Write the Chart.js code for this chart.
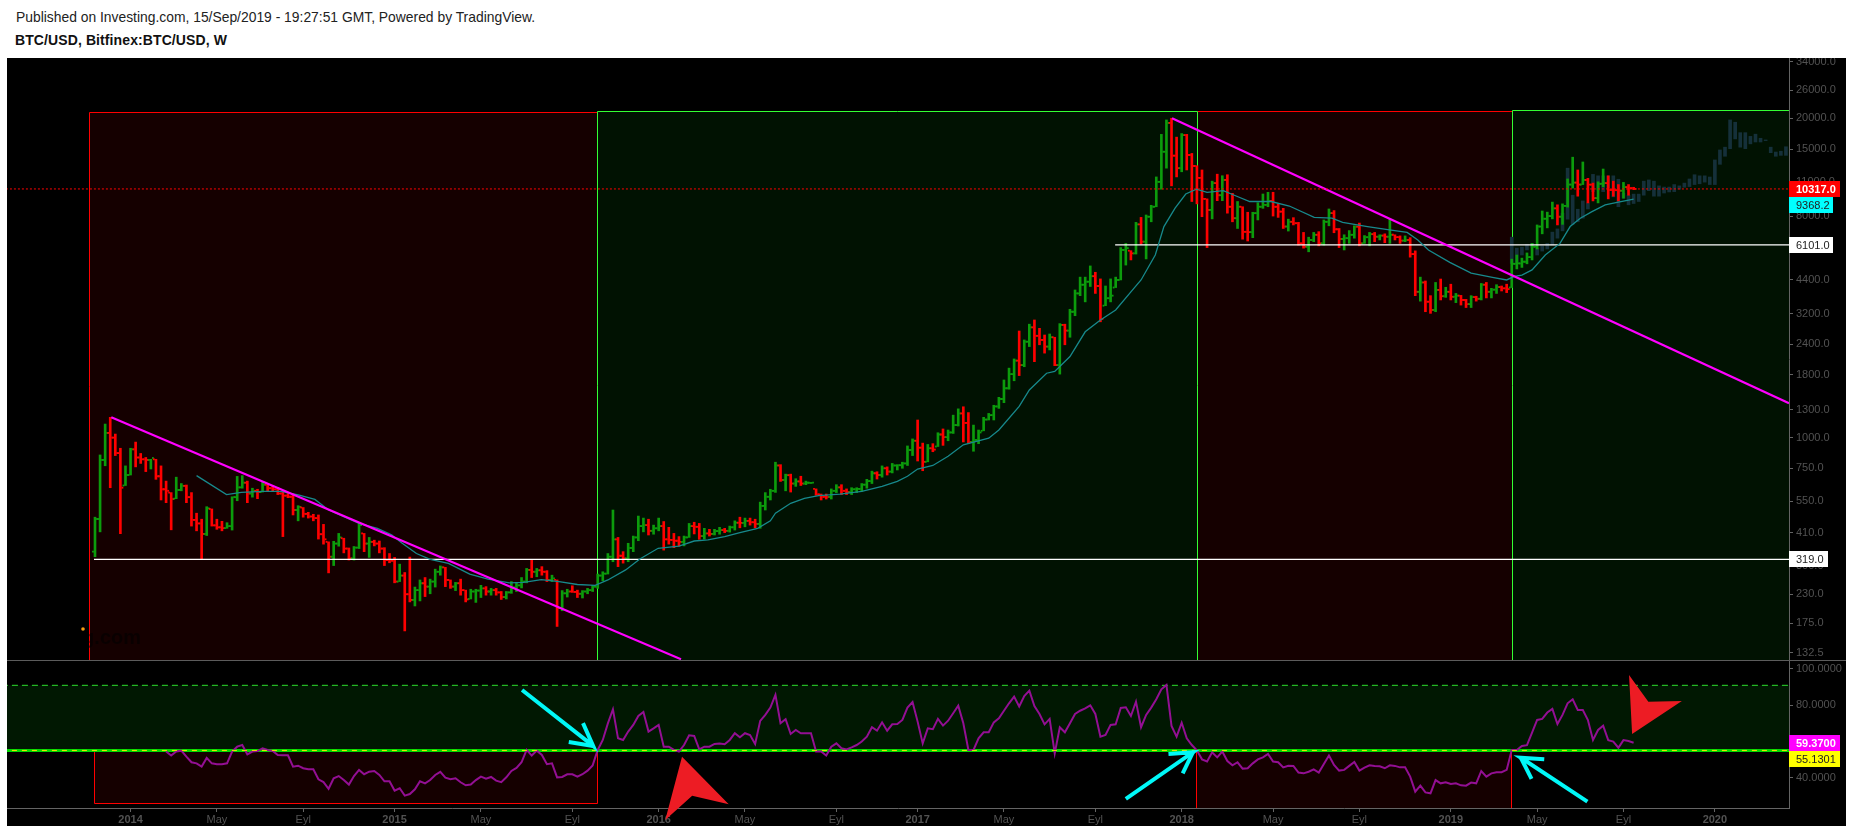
<!DOCTYPE html>
<html>
<head>
<meta charset="utf-8">
<title>BTC/USD</title>
<style>
    html, body { margin: 0; background: #fff; overflow: hidden; }
    .head { position: absolute; left: 16px; font: 13.87px "Liberation Sans", Arial, sans-serif; color: #222; white-space: nowrap; }
    #line1 { top: 9px; }
    #line2 { top: 32px; left: 15px; font-size: 14px; font-weight: bold; color: #111; letter-spacing: 0.1px; }
    #panel { position: absolute; left: 7px; top: 58px; width: 1839px; height: 768px; background: #000; }
    #price-chart { position: absolute; left: 0; top: 0; }
    #divider { position: absolute; left: 0; top: 602px; width: 1839px; height: 1px; background: #5c5c5c; }
    #rsi-chart { position: absolute; left: 0; top: 603px; }
</style>
</head>
<body>
<div class="head" id="line1">Published on Investing.com, 15/Sep/2019 - 19:27:51 GMT, Powered by TradingView.</div>
<div class="head" id="line2">BTC/USD, Bitfinex:BTC/USD, W</div>
<div id="panel">
    <canvas id="price-chart" width="1839" height="602"></canvas>
    <div id="divider"></div>
    <canvas id="rsi-chart" width="1839" height="165"></canvas>
</div>
<script src="https://cdn.jsdelivr.net/npm/chart.js@4/dist/chart.umd.min.js"></script>
<script>
// weekly bars, index 0 = first bar on the chart
const firstOpen = 343;
const highs = [
    474,850,1136,1210,1034,905,767,905,959,862,
    830,816,816,767,665,597,690,650,641,597,
    492,465,523,512,465,456,450,574,695,700,
    665,622,616,663,643,636,627,607,592,589,
    528,519,496,487,484,443,376,378,407,389,
    355,360,447,407,392,382,379,356,337,325,
    305,282,326,246,263,269,265,291,300,296,
    263,257,265,239,241,241,250,247,243,243,
    236,236,259,256,269,293,317,293,298,287,
    275,263,238,241,249,239,238,243,250,278,
    284,337,507,392,343,371,397,479,470,465,
    440,470,455,431,407,395,397,447,452,447,
    427,423,423,431,427,436,458,474,470,470,
    465,546,597,616,794,776,710,710,680,696,
    665,657,618,589,589,618,643,643,618,625,
    625,650,676,730,726,767,760,785,776,794,
    925,988,1180,950,938,945,1047,1085,1074,1235,
    1310,1336,1265,1125,1074,1210,1255,1355,1460,1718,
    1920,2093,2720,2501,2900,3017,2790,2620,2645,2565,
    2915,2900,3335,3998,4510,4510,5010,4720,4435,4150,
    4435,4510,5950,6190,5780,7540,7900,8080,8850,11550,
    17220,19717,20030,16780,17350,17220,14400,12830,12330,9400,
    11100,11850,11680,11790,9900,9170,8730,8290,8290,9070,
    9840,10000,10000,8970,8600,7770,7880,7540,6860,6560,
    6860,6910,7713,8550,8420,7120,6710,6980,7300,7490,
    6660,6860,6860,6710,6770,7770,6710,6640,6640,6530,
    5770,4510,4350,3790,4290,4430,4100,4220,3870,3800,
    3660,3790,3770,4250,4290,4060,4200,4150,4220,5340,
    5550,5390,5660,6190,7360,8390,8300,9120,8890,8970,
    11330,13900,12330,13290,11400,10900,11030,12440,11670,11100,
    10750,10970,10750,10480
];
const lows = [
    327,413,768,625,845,406,638,704,760,785,
    727,745,676,557,543,421,564,607,543,436,
    417,319,399,436,423,417,427,420,553,622,
    543,572,564,600,607,607,586,395,569,484,
    458,474,470,458,386,368,281,301,361,339,
    317,317,353,343,325,362,339,301,309,256,
    259,163,214,206,216,225,231,246,275,247,
    243,238,228,214,220,213,223,228,228,228,
    219,220,232,236,244,256,269,271,275,259,
    259,170,197,224,234,223,222,231,236,243,
    261,278,312,298,308,312,343,380,413,401,
    404,417,348,368,356,361,362,392,405,385,
    386,397,401,404,410,412,420,429,433,440,
    429,427,507,557,598,663,607,600,633,638,
    643,650,582,557,562,562,597,586,586,586,
    597,604,622,650,678,690,704,718,738,750,
    770,845,803,733,797,876,920,930,971,1040,
    1115,960,945,880,945,1066,1180,1180,1316,1388,
    1575,1705,1790,1945,2350,2040,2390,2210,2277,1965,
    1815,2390,2565,3140,3790,3575,4130,3870,2965,3450,
    3575,4090,4392,5050,5299,5600,6140,5350,7580,8730,
    10290,12540,10620,11550,12120,12330,9170,8970,7950,5950,
    7790,9240,9240,8220,7580,7120,6440,6330,6530,7713,
    8600,8730,8000,7900,7120,6950,7360,6090,5920,5720,
    6290,6050,6090,7300,6840,5950,5820,6190,6500,6050,
    6190,6050,6290,6393,6230,6190,6393,6190,6290,5440,
    3790,3600,3260,3210,3260,3640,3730,3640,3550,3470,
    3390,3390,3600,3640,3710,3710,3870,3960,3900,4090,
    4870,4940,5110,5299,5875,6770,7160,7790,7360,7400,
    8700,10400,9640,10750,9050,9220,9050,10530,9400,9640,
    9220,9460,9730,10250
];
const closes = [
    466,811,1045,1000,865,625,704,896,830,816,
    811,826,696,616,607,562,612,636,572,462,
    447,405,515,439,431,428,436,572,627,655,
    592,607,600,643,622,616,592,580,574,507,
    522,489,477,470,404,385,327,370,392,353,
    322,356,440,370,376,370,353,317,315,259,
    274,230,218,239,255,247,259,284,296,263,
    247,255,239,219,236,238,243,236,239,234,
    224,234,245,250,259,289,284,288,284,263,
    267,202,232,236,235,231,236,239,247,274,
    279,327,385,330,322,355,392,436,440,417,
    427,436,385,383,380,376,392,436,433,397,
    407,405,416,420,417,431,450,449,458,452,
    445,527,574,607,770,672,703,650,663,650,
    655,656,587,574,573,607,627,607,600,616,
    618,643,665,716,704,750,727,770,772,785,
    890,971,910,797,905,894,1030,1005,1050,1125,
    1255,1148,960,978,1050,1185,1235,1340,1437,1590,
    1816,2060,1975,2460,2815,2600,2501,2350,2565,1975,
    2880,2730,3260,3870,4200,4320,4550,4150,3045,3700,
    3790,4392,5820,5920,5640,7400,6290,7950,8730,11030,
    14630,19170,14100,12540,17100,14190,12800,11450,9400,8472,
    10900,9730,11227,8730,7840,8730,6900,6880,8220,8730,
    8890,9220,8730,8340,7250,7580,7480,6190,6000,6393,
    6710,6190,7580,8220,7070,6450,6500,6710,7240,6190,
    6560,6750,6590,6660,6590,6710,6560,6350,6393,5600,
    3930,4290,3580,3314,4000,3770,3930,3750,3790,3640,
    3500,3740,3680,4200,3930,4010,4110,4060,4030,5110,
    5130,5210,5440,6000,7250,7800,8000,8600,7950,8800,
    10750,10950,10750,11227,10750,9460,10830,10900,10220,10200,
    10150,10500,10400,10317
];

// faded projection bars on the right
const ghostFirstBar = 279;
const ghostHighs = [
    6560,5920,5975,6140,6190,5920,6040,6190,6880,7090,
    8220,12540,9730,8530,9220,9050,11830,11670,11670,11670,
    11670,11300,9900,9730,9830,9830,11100,11227,11100,10620,
    10500,10500,10750,10620,10900,11330,11790,11670,11670,11540,
    13546,14878,15270,19717,19300,17500,17500,16900,17250,16600,
    16342,15270,14590,14700,15330
];
const ghostLows = [
    5130,5130,5550,5820,5975,5550,5760,5875,6090,6500,
    6960,7770,7400,7580,7840,8550,10060,10220,10060,10400,
    9580,8730,9460,8890,9000,9170,9730,10150,9640,9640,
    9930,10030,10060,10290,10480,10550,10750,10830,11000,10750,
    10750,13000,14020,15060,16500,15270,15060,15750,16030,16030,
    16240,14500,14020,14140,14140
];

// moving average, read at its visible bends
const maBars = [
    20,25.9,28.8,33,36.6,40,43.3,46,49,52,55.6,58.4,60.5,63.3,66,69.6,73.8,77.4,81.6,84.4,
    87.9,91.4,95,98.5,101,104.5,107.3,110.9,115,118,120.7,124,127,130.5,133,134,137,139.7,142.5,146.7,
    151,155,158,160,162,165,168,171,176,178,182,184,187.4,189,192,195,198,201,204,206,
    208.8,210.5,212.7,214.8,216.9,219,222.2,224.6,227.4,231.6,235.2,240.1,243.6,245.7,250.6,254.9,258.4,260.5,262.6,266.8,
    271,275.2,278,279.5,281,283,285.6,288.5,290.5,292.5,294.8,297.4,300,303
];
const maValues = [
    700,586,598,604,604,584,560,507,476,447,427,402,371,337,319,307,278,265,256,257,
    264,259,252,250,263,289,320,354,361,379,383,395,410,427,458,492,540,566,580,589,
    604,633,663,696,745,770,840,935,995,1074,1340,1564,1830,1860,2140,2700,3017,3314,3930,4392,
    5550,7250,8620,9840,10300,10000,10150,9680,9170,9170,8790,7900,7840,7540,7250,7022,6860,6393,5820,5180,
    4680,4500,4392,4540,4600,4824,5550,6190,7250,7840,8340,8890,9110,9368.2
];

// RSI, one value per bar starting at bar 14
const rsiFirstBar = 14;
const rsiValues = [
    54.5,52.3,54.5,55,51.7,48.6,48,46.2,51,48,47.5,47.5,48,54.5,57.2,58.1,53,54.5,54.8,56.3,
    55.4,54.8,52.6,52.4,52.4,46.2,46.7,45.3,44.7,44.7,39.2,37.7,34,39.8,41,38.8,36.3,41,44.4,42,
    43.4,43.8,41.6,38.1,38.1,33,34.3,30.2,31.1,33.7,38.1,37,38.8,41.6,43.3,40.1,39.2,39.8,37.6,35.9,
    36.3,38.8,40.7,39.6,40.5,38.5,37.6,40.3,43.8,45.5,48.6,55.4,52.3,55,52.6,47.5,48,40.3,40.5,42,
    42,40.7,42,44,46.9,55.4,60.9,70,77.8,61.8,60.9,65.5,69.2,74.1,76.3,65.5,67.3,69.2,57.2,57.2,
    55.4,54.5,58.1,63.5,63.1,55.7,57.2,57.2,58.7,59,58.5,60.9,64.6,62.4,64.6,63.6,58.7,71.4,74.7,78.7,
    85.7,70.1,72.3,64.2,66.4,64.6,64.6,64.6,54.5,54.5,52.3,57.2,59,56.3,55.7,56.8,58.1,60,62.7,67.9,
    66,70.6,66,69.5,69.7,71.9,78.7,81.8,71,59,67.3,66.8,72.5,68.8,71.5,75.6,79.8,70.1,55.4,55.4,
    61.8,65.1,65.1,70.6,72.8,77,81.1,84.8,79.3,85.1,88.1,79.6,75.2,69.5,72.5,53.5,67.9,65.1,70.1,75.2,
    77,78.3,80,75.2,62.7,63.6,69.2,69.5,78.5,78.9,74.1,82,67.9,74.7,78.7,83.3,88.8,91.2,68.6,62.7,
    70.4,61.8,58.1,55.2,50.2,49,54.1,51.3,54.5,49.3,46.9,48.6,45.1,45.3,48,50.2,51.3,53.2,49,48.6,
    45.8,46.7,46.6,42.9,42.5,43.4,44.7,42.9,47.7,52.3,47.1,44,44.4,46.6,48.8,44,45.6,46.9,46.6,46.4,
    45.3,46.9,46.6,45.8,45.8,40.7,32.4,35.7,32,31.5,38.8,37,37.6,36.6,37,35.9,35.7,37.4,37,43.8,
    40.7,42.5,43.1,43.1,44.4,55.4,55.4,57.6,58,64.9,71.9,72.5,76,78,69.7,74.7,81.1,83.3,77.4,77.4,
    71.9,60.9,66.4,68.7,60.8,60,56.6,60.8,60.3,59.37
];

// axes
const priceTicks = [34000,26000,20000,15000,11000,8000,6000,4400,3200,2400,1800,1300,1000,750,550,410,300,230,175,132.5];
const rsiTicks = [100,80,60,40];
const xTickBars = [7,24,41,59,76,94,111,128,146,162,179,197,214,232,249,267,284,301,319];
const xTickLabels = ['2014','May','Eyl','2015','May','Eyl','2016','May','Eyl','2017','May','Eyl','2018','May','Eyl','2019','May','Eyl','2020'];

// drawn levels and trend lines
const supportPrices = [319, 6101];
const supportStartBars = [-0.2, 200.9];
const currentPrice = 10317;
const trendStartBars = [3.2, 212.1];
const trendStartPrices = [1210, 20030];
const trendEndBars = [115.4, 333.6];
const trendEndPrices = [125, 1380];
const rsiUpper = 91;
const rsiLower = 55.13;

// shaded ranges, reds first so the green edges stay on top
const priceBoxStarts = [-1.1, 217, 98.9, 279];
const priceBoxEnds = [98.9, 279, 217, 334];
const priceBoxTops = [21250, 21380, 21450, 21600];
const priceBoxKinds = ['red', 'red', 'green', 'green'];
const rsiBoxStarts = [-0.1, 216.9];
const rsiBoxEnds = [98.9, 278.9];
const rsiBoxTops = [55.13, 55.13];
const rsiBoxBottoms = [26.2, null];

// value tags on the axis
const priceTagValues = [10317, 9368.2, 6101, 319];
const priceTagShift = [0, 6, 0, 0];
const priceTagFill = ['#ff0000', '#00ffff', '#ffffff', '#ffffff'];
const priceTagInk = ['#ffffff', '#222222', '#222222', '#222222'];
const priceTagWidths = [51, 44, 44, 39];
const rsiTagValues = [59.37, 55.13];
const rsiTagTexts = ['59.3700', '55.1301'];
const rsiTagShift = [0, 9];
const rsiTagFill = ['#ff00ff', '#ffff00'];
const rsiTagInk = ['#ffffff', '#222222'];

// hand drawn annotations on the RSI pane, as [bar, rsi]
const cyanArrowLines = [
    [[84.1, 88.4], [98.1, 57.6], [96.1, 70.2]], [[98.1, 57.6], [93.3, 59.8]],
    [[203, 28.4], [216.2, 54.1], [211.4, 53.2]], [[216.2, 54.1], [214.2, 42.5]],
    [[293.9, 26.9], [280.8, 51.1], [285.4, 50.2]], [[280.8, 51.1], [282.9, 39.4]]
];
const redArrows = [
    [[115.6, 51.7], [124.8, 25.5], [117.6, 30.2], [112.3, 16.8]],
    [[302.1, 96.7], [305.9, 82], [312.5, 82.4], [302.7, 64.2]]
];

const FONT = '"Liberation Sans", Arial, sans-serif';
const GREEN_BAR = '#0c9c0c';
const RED_BAR = '#ff0000';
const AXIS_GREY = '#646464';
const TEXT_GREY = '#525252';
const X_MIN = -17.33;
const X_MAX = 333.6;

const boxColors = {
    red: { fill: '#150000', edge: '#ff0000' },
    green: { fill: '#011202', edge: '#33ff33' }
};

function levelLine(y, fromBar, color, width, dash, order) {
    return {
        type: 'line',
        data: [{ x: fromBar, y: y }, { x: X_MAX + 1, y: y }],
        borderColor: color,
        borderWidth: width,
        borderDash: dash,
        pointRadius: 0,
        order: order
    };
}

function drawBoxes(chart, starts, ends, tops, bottoms, kinds) {
    const { ctx, chartArea, scales } = chart;
    const yScale = scales.y;
    ctx.save();
    ctx.beginPath();
    ctx.rect(chartArea.left, chartArea.top, chartArea.width, chartArea.height);
    ctx.clip();
    starts.forEach((start, i) => {
        const left = Math.round(scales.x.getPixelForValue(start)) + 0.5;
        const right = Math.round(scales.x.getPixelForValue(ends[i])) + 0.5;
        const top = Math.round(yScale.getPixelForValue(tops[i])) + 0.5;
        const hasBottom = bottoms[i] !== null;
        const bottom = hasBottom ? Math.round(yScale.getPixelForValue(bottoms[i])) + 0.5 : chartArea.bottom;
        const color = boxColors[kinds[i]];
        ctx.fillStyle = color.fill;
        ctx.fillRect(left, top, right - left, bottom - top);
        ctx.strokeStyle = color.edge;
        ctx.lineWidth = 1;
        ctx.beginPath();
        ctx.moveTo(left, bottom);
        ctx.lineTo(left, top);
        ctx.lineTo(right, top);
        ctx.lineTo(right, bottom);
        if (hasBottom) ctx.lineTo(left, bottom);
        ctx.stroke();
    });
    ctx.restore();
}

function drawTag(chart, value, text, shift, fill, ink, width, bold) {
    const { ctx, chartArea, scales } = chart;
    const y = scales.y.getPixelForValue(value) + shift;
    ctx.save();
    ctx.fillStyle = fill;
    ctx.fillRect(chartArea.right, Math.round(y) - 8, width, 16);
    ctx.fillStyle = ink;
    ctx.font = (bold ? 'bold ' : '') + '11px ' + FONT;
    ctx.textBaseline = 'middle';
    ctx.fillText(text, chartArea.right + 7, Math.round(y) + 0.5);
    ctx.restore();
}

// fixed axis sizes, and no room kept for half a tick label at the ends
function fitAxis(scale) {
    if (scale.axis === 'y') {
        scale.width = 57;
        scale.paddingTop = 0;
        scale.paddingBottom = 0;
    } else {
        scale.height = 18;
        scale.paddingLeft = 0;
        scale.paddingRight = 0;
    }
}

// ---- price pane ----
const barColors = closes.map((c, i) => (c >= (i ? closes[i - 1] : firstOpen) ? GREEN_BAR : RED_BAR));
const opens = closes.map((c, i) => Math.min(highs[i], Math.max(lows[i], i ? closes[i - 1] : firstOpen)));

const pricePlugin = {
    id: 'priceExtras',
    beforeDatasetsDraw(chart) {
        drawBoxes(chart, priceBoxStarts, priceBoxEnds, priceBoxTops, priceBoxStarts.map(() => null), priceBoxKinds);
    },
    afterDatasetsDraw(chart) {
        // faint site logo in the corner
        const { ctx } = chart;
        ctx.save();
        ctx.fillStyle = '#f39c12';
        ctx.beginPath();
        ctx.arc(76, 571, 1.8, 0, Math.PI * 2);
        ctx.fill();
        ctx.fillStyle = 'rgba(0,0,0,0.55)';
        ctx.font = 'bold 20px ' + FONT;
        ctx.textAlign = 'right';
        ctx.fillText('Investing.com', 134, 586);
        ctx.restore();
    },
    afterDraw(chart) {
        priceTagValues.forEach((v, i) => {
            drawTag(chart, v, v.toFixed(1), priceTagShift[i], priceTagFill[i], priceTagInk[i], priceTagWidths[i], i === 0);
        });
    }
};

new Chart(document.getElementById('price-chart'), {
    type: 'bar',
    data: {
        datasets: [
            {
                // projection
                data: ghostHighs.map((h, i) => ({ x: ghostFirstBar + i, y: [ghostLows[i], h] })),
                backgroundColor: '#15303a',
                barThickness: 3,
                grouped: false,
                order: 9
            },
            {
                data: highs.map((h, i) => ({ x: i, y: [lows[i], h] })),
                backgroundColor: barColors,
                barThickness: 2,
                grouped: false,
                order: 8
            },
            {
                type: 'line',
                data: opens.map((o, i) => ({ x: i - 0.4, y: o })),
                showLine: false,
                pointStyle: 'rect',
                pointRadius: 1.3,
                pointBorderWidth: 0,
                pointBackgroundColor: barColors,
                order: 7
            },
            {
                type: 'line',
                data: closes.map((c, i) => ({ x: i + 0.4, y: c })),
                showLine: false,
                pointStyle: 'rect',
                pointRadius: 1.3,
                pointBorderWidth: 0,
                pointBackgroundColor: barColors,
                order: 7
            },
            levelLine(supportPrices[0], supportStartBars[0], '#ffffff', 1.2, [], 6),
            levelLine(supportPrices[1], supportStartBars[1], '#ffffff', 1.2, [], 6),
            {
                type: 'line',
                data: maBars.map((b, i) => ({ x: b, y: maValues[i] })),
                borderColor: '#17898c',
                borderWidth: 1.3,
                pointRadius: 0,
                order: 5
            },
            ...trendStartBars.map((b, i) => ({
                type: 'line',
                data: [{ x: b, y: trendStartPrices[i] }, { x: trendEndBars[i], y: trendEndPrices[i] }],
                borderColor: '#ff00ff',
                borderWidth: 2.2,
                pointRadius: 0,
                order: 4
            })),
            levelLine(currentPrice, X_MIN - 1, '#ff0000', 1, [2, 2], 3)
        ]
    },
    options: {
        responsive: false,
        animation: false,
        devicePixelRatio: 1,
        layout: { autoPadding: false, padding: 0 },
        plugins: { legend: { display: false }, tooltip: { enabled: false } },
        scales: {
            x: { type: 'linear', display: false, offset: false, min: X_MIN, max: X_MAX },
            y: {
                type: 'logarithmic',
                position: 'right',
                min: 124.07,
                max: 35260,
                afterFit: fitAxis,
                afterBuildTicks: scale => { scale.ticks = priceTicks.map(v => ({ value: v })); },
                grid: { drawOnChartArea: false, color: AXIS_GREY, tickLength: 4 },
                border: { color: AXIS_GREY },
                ticks: {
                    autoSkip: false,
                    padding: 3,
                    color: TEXT_GREY,
                    font: { family: FONT, size: 11 },
                    callback: v => Number(v).toFixed(1)
                }
            }
        }
    },
    plugins: [pricePlugin]
});

// ---- RSI pane ----
const rsiPlugin = {
    id: 'rsiExtras',
    beforeDatasetsDraw(chart) {
        drawBoxes(chart, rsiBoxStarts, rsiBoxEnds, rsiBoxTops, rsiBoxBottoms, ['red', 'red']);
    },
    afterDraw(chart) {
        const { ctx, scales } = chart;
        const px = p => [scales.x.getPixelForValue(p[0]), scales.y.getPixelForValue(p[1])];
        ctx.save();
        ctx.fillStyle = '#ed1c24';
        redArrows.forEach(shape => {
            ctx.beginPath();
            shape.forEach((p, i) => {
                const [x, y] = px(p);
                if (i === 0) ctx.moveTo(x, y); else ctx.lineTo(x, y);
            });
            ctx.closePath();
            ctx.fill();
        });
        ctx.strokeStyle = '#00f8f8';
        ctx.lineWidth = 4;
        cyanArrowLines.forEach(path => {
            ctx.beginPath();
            path.forEach((p, i) => {
                const [x, y] = px(p);
                if (i === 0) ctx.moveTo(x, y); else ctx.lineTo(x, y);
            });
            ctx.stroke();
        });
        ctx.restore();
        rsiTagValues.forEach((v, i) => {
            drawTag(chart, v, rsiTagTexts[i], rsiTagShift[i], rsiTagFill[i], rsiTagInk[i], 51, i === 0);
        });
    }
};

new Chart(document.getElementById('rsi-chart'), {
    type: 'line',
    data: {
        datasets: [
            {
                // band between the two levels
                data: [{ x: X_MIN - 1, y: rsiUpper }, { x: X_MAX + 1, y: rsiUpper }],
                borderColor: '#2ce02c',
                borderWidth: 1,
                borderDash: [6, 4],
                pointRadius: 0,
                fill: { target: { value: rsiLower } },
                backgroundColor: '#011802',
                order: 9
            },
            levelLine(rsiLower, X_MIN - 1, '#00d800', 3, [], 6),
            {
                data: rsiValues.map((v, i) => ({ x: rsiFirstBar + i, y: v })),
                borderColor: '#930f93',
                borderWidth: 2,
                pointRadius: 0,
                order: 5
            },
            levelLine(rsiLower, X_MIN - 1, '#ffe000', 1, [5, 5], 4)
        ]
    },
    options: {
        responsive: false,
        animation: false,
        devicePixelRatio: 1,
        layout: { autoPadding: false, padding: 0 },
        plugins: { legend: { display: false }, tooltip: { enabled: false } },
        scales: {
            x: {
                type: 'linear',
                offset: false,
                min: X_MIN,
                max: X_MAX,
                afterFit: fitAxis,
                afterBuildTicks: scale => { scale.ticks = xTickBars.map(v => ({ value: v })); },
                grid: { drawOnChartArea: false, color: AXIS_GREY, tickLength: 4 },
                border: { color: AXIS_GREY },
                ticks: {
                    autoSkip: false,
                    maxRotation: 0,
                    padding: 1,
                    color: TEXT_GREY,
                    font: ctx => ({
                        family: FONT,
                        size: 11,
                        weight: ctx.tick && /^\d/.test(xTickLabels[xTickBars.indexOf(ctx.tick.value)]) ? 'bold' : 'normal'
                    }),
                    callback: v => xTickLabels[xTickBars.indexOf(v)]
                }
            },
            y: {
                type: 'linear',
                position: 'right',
                min: 23.4,
                max: 104.4,
                afterFit: fitAxis,
                afterBuildTicks: scale => { scale.ticks = rsiTicks.map(v => ({ value: v })); },
                grid: { drawOnChartArea: false, color: AXIS_GREY, tickLength: 4 },
                border: { color: AXIS_GREY },
                ticks: {
                    autoSkip: false,
                    padding: 3,
                    color: TEXT_GREY,
                    font: { family: FONT, size: 11 },
                    callback: v => Number(v).toFixed(4)
                }
            }
        }
    },
    plugins: [rsiPlugin]
});
</script>
</body>
</html>
